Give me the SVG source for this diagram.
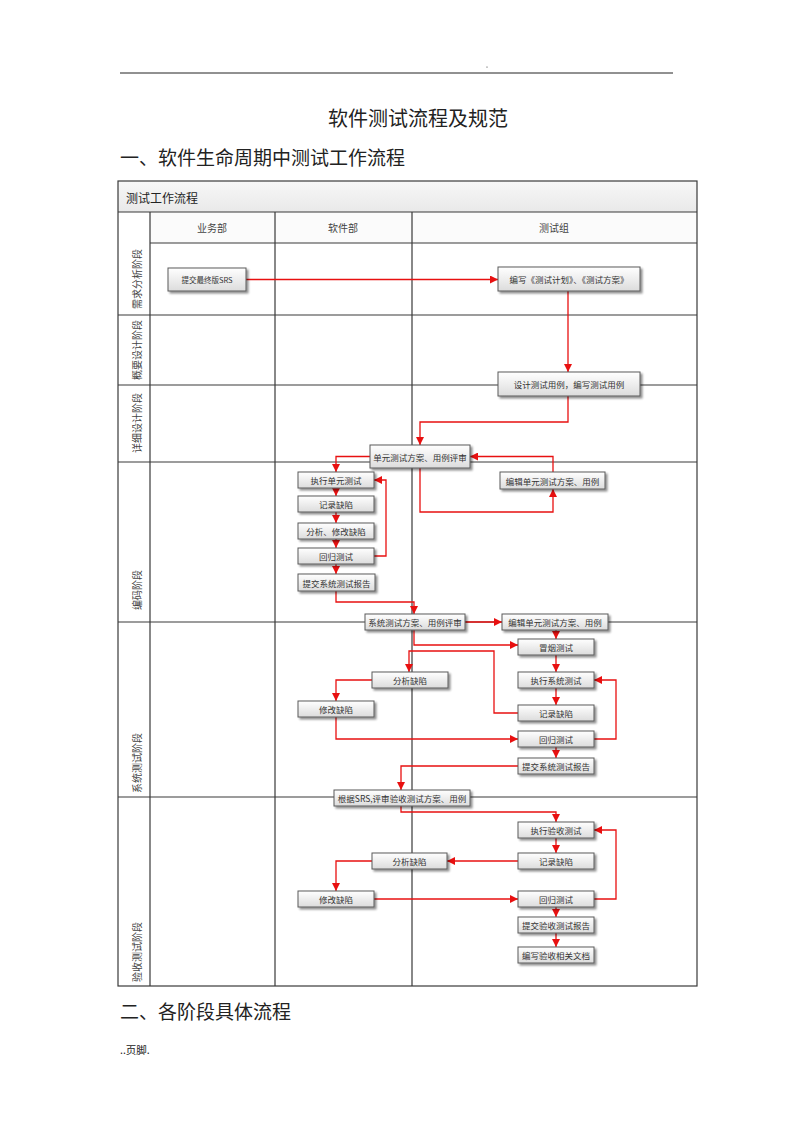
<svg xmlns="http://www.w3.org/2000/svg" width="793" height="1122" viewBox="0 0 793 1122">
<style>
.cjk{font-family:"Noto Sans CJK SC","Liberation Sans",sans-serif;fill:#222}
.node rect{fill:url(#bg);stroke:#5a5a5a;stroke-width:1;filter:url(#sh)}
.node text{font-family:"Noto Sans CJK SC","Liberation Sans",sans-serif;font-size:8.5px;fill:#333;text-anchor:middle;dominant-baseline:central}
.grid{stroke:#3a3a3a;stroke-width:1.2;fill:none}
.hd{font-family:"Noto Sans CJK SC","Liberation Sans",sans-serif;font-size:10px;fill:#444;text-anchor:middle;dominant-baseline:central}
.vl{font-family:"Noto Sans CJK SC","Liberation Sans",sans-serif;font-size:10px;fill:#444;dominant-baseline:central}
</style>
<defs>
<linearGradient id="bg" x1="0" y1="0" x2="0" y2="1"><stop offset="0" stop-color="#ffffff"/><stop offset="1" stop-color="#dcdcdc"/></linearGradient>
<linearGradient id="tb" x1="0" y1="0" x2="0" y2="1"><stop offset="0" stop-color="#f7f7f7"/><stop offset="1" stop-color="#e9e9e9"/></linearGradient>
<filter id="sh" x="-10%" y="-20%" width="130%" height="160%"><feGaussianBlur in="SourceAlpha" stdDeviation="0.8"/><feOffset dx="1.5" dy="1.5" result="o"/><feComponentTransfer><feFuncA type="linear" slope="0.45"/></feComponentTransfer><feMerge><feMergeNode/><feMergeNode in="SourceGraphic"/></feMerge></filter>
<marker id="arr" viewBox="0 0 10 10" refX="10" refY="5" markerWidth="8" markerHeight="8" orient="auto" markerUnits="userSpaceOnUse"><path d="M0,0 L10,5 L0,10 z" fill="#e81010"/></marker>
</defs>
<rect width="793" height="1122" fill="#fff"/>
<g id="page">
<line x1="120" y1="73" x2="673" y2="73" stroke="#222" stroke-width="1"/>
<circle cx="487" cy="67" r="0.6" fill="#333"/>
<text class="cjk" x="418" y="126" font-size="20" text-anchor="middle">软件测试流程及规范</text>
<text class="cjk" x="120" y="165" font-size="19">一、软件生命周期中测试工作流程</text>
<text class="cjk" x="120" y="1019" font-size="19">二、各阶段具体流程</text>
<text class="cjk" x="120" y="1054" font-size="10.5">..页脚.</text>
</g>
<g id="table">
<rect x="118" y="181" width="579" height="31" fill="url(#tb)"/>
<rect x="150" y="212" width="547" height="31" fill="#fbfbfb"/>
<rect x="118" y="181" width="579" height="805" class="grid" stroke-width="1.5"/>
<path class="grid" d="M118,212 H697 M150,243 H697 M118,315 H697 M118,385 H697 M118,462 H697 M118,622 H697 M118,797 H697 M150,212 V986 M275,212 V986 M412,212 V986"/>
<text class="cjk" x="126" y="197" font-size="12" dominant-baseline="central">测试工作流程</text>
<text class="hd" x="212" y="227">业务部</text>
<text class="hd" x="343" y="227">软件部</text>
<text class="hd" x="554" y="227">测试组</text>
<text class="vl" transform="translate(136,279) rotate(-90)" text-anchor="middle">需求分析阶段</text>
<text class="vl" transform="translate(136,350) rotate(-90)" text-anchor="middle">概要设计阶段</text>
<text class="vl" transform="translate(136,423) rotate(-90)" text-anchor="middle">详细设计阶段</text>
<text class="vl" transform="translate(136,610) rotate(-90)">编码阶段</text>
<text class="vl" transform="translate(136,793) rotate(-90)">系统测试阶段</text>
<text class="vl" transform="translate(136,982) rotate(-90)">验收测试阶段</text>
</g>
<g id="connectors" fill="none" stroke="#e81010" stroke-width="1.3" marker-end="url(#arr)">
<path d="M246,279.5 H498"/>
<path d="M568,291 V372"/>
<path d="M568,396 V422 H420 V445"/>
<path d="M370,456.5 H336 V472"/>
<path d="M336,488 V496"/>
<path d="M336,512 V523"/>
<path d="M336,539 V548"/>
<path d="M336,564 V574"/>
<path d="M374,556 H386 V480 H374"/>
<path d="M420,468 V512 H553 V489"/>
<path d="M553,472 V456.5 H470"/>
<path d="M336,591 V602 H414 V614"/>
<path d="M465,622 H502"/>
<path d="M556,630 V639"/>
<path d="M414,630 V645 H518"/>
<path d="M518,713 H494 V651 H409 V672"/>
<path d="M556,655 V672"/>
<path d="M556,688 V705"/>
<path d="M372,680 H336 V701"/>
<path d="M336,717 V739 H518"/>
<path d="M594,739 H616 V680 H594"/>
<path d="M556,747 V758"/>
<path d="M518,766 H401 V790"/>
<path d="M401,806 V812 H556 V822"/>
<path d="M556,838 V853"/>
<path d="M518,861 H447"/>
<path d="M372,861 H336 V891"/>
<path d="M374,899 H518"/>
<path d="M594,899 H616 V830 H594"/>
<path d="M556,907 V917"/>
<path d="M556,933 V947"/>
</g>
<g id="n1" class="node"><rect x="168" y="268" width="78" height="23"/><text x="207" y="279.5" style="font-size:7.5px">提交最终版SRS</text></g>
<g id="n2" class="node"><rect x="498" y="267" width="142" height="24"/><text x="569" y="279">编写《测试计划》、《测试方案》</text></g>
<g id="n3" class="node"><rect x="498" y="372" width="142" height="24"/><text x="569" y="384">设计测试用例，编写测试用例</text></g>
<g id="n4" class="node"><rect x="370" y="445" width="100" height="23"/><text x="420" y="456.5">单元测试方案、用例评审</text></g>
<g id="n5" class="node"><rect x="298" y="472" width="76" height="16"/><text x="336" y="480">执行单元测试</text></g>
<g id="n6" class="node"><rect x="298" y="496" width="76" height="16"/><text x="336" y="504">记录缺陷</text></g>
<g id="n7" class="node"><rect x="298" y="523" width="76" height="16"/><text x="336" y="531">分析、修改缺陷</text></g>
<g id="n8" class="node"><rect x="298" y="548" width="76" height="16"/><text x="336" y="556">回归测试</text></g>
<g id="n9" class="node"><rect x="298" y="574" width="77" height="17"/><text x="336.5" y="582.5">提交系统测试报告</text></g>
<g id="n10" class="node"><rect x="500" y="472" width="105" height="17"/><text x="552.5" y="480.5">编辑单元测试方案、用例</text></g>
<g id="n11" class="node"><rect x="365" y="614" width="100" height="16"/><text x="415" y="622">系统测试方案、用例评审</text></g>
<g id="n12" class="node"><rect x="502" y="614" width="106" height="16"/><text x="555" y="622">编辑单元测试方案、用例</text></g>
<g id="n13" class="node"><rect x="518" y="639" width="76" height="16"/><text x="556" y="647">冒烟测试</text></g>
<g id="n14" class="node"><rect x="518" y="672" width="76" height="16"/><text x="556" y="680">执行系统测试</text></g>
<g id="n15" class="node"><rect x="518" y="705" width="76" height="16"/><text x="556" y="713">记录缺陷</text></g>
<g id="n16" class="node"><rect x="518" y="731" width="76" height="16"/><text x="556" y="739">回归测试</text></g>
<g id="n17" class="node"><rect x="518" y="758" width="76" height="16"/><text x="556" y="766">提交系统测试报告</text></g>
<g id="n18" class="node"><rect x="372" y="672" width="76" height="16"/><text x="410" y="680">分析缺陷</text></g>
<g id="n19" class="node"><rect x="298" y="701" width="76" height="16"/><text x="336" y="709">修改缺陷</text></g>
<g id="n20" class="node"><rect x="334" y="790" width="136" height="16"/><text x="402" y="798">根据SRS,评审验收测试方案、用例</text></g>
<g id="n21" class="node"><rect x="518" y="822" width="76" height="16"/><text x="556" y="830">执行验收测试</text></g>
<g id="n22" class="node"><rect x="518" y="853" width="76" height="16"/><text x="556" y="861">记录缺陷</text></g>
<g id="n23" class="node"><rect x="372" y="853" width="75" height="16"/><text x="409.5" y="861">分析缺陷</text></g>
<g id="n24" class="node"><rect x="298" y="891" width="76" height="16"/><text x="336" y="899">修改缺陷</text></g>
<g id="n25" class="node"><rect x="518" y="891" width="76" height="16"/><text x="556" y="899">回归测试</text></g>
<g id="n26" class="node"><rect x="518" y="917" width="76" height="16"/><text x="556" y="925">提交验收测试报告</text></g>
<g id="n27" class="node"><rect x="518" y="947" width="76" height="16"/><text x="556" y="955">编写验收相关文档</text></g>
</svg>
